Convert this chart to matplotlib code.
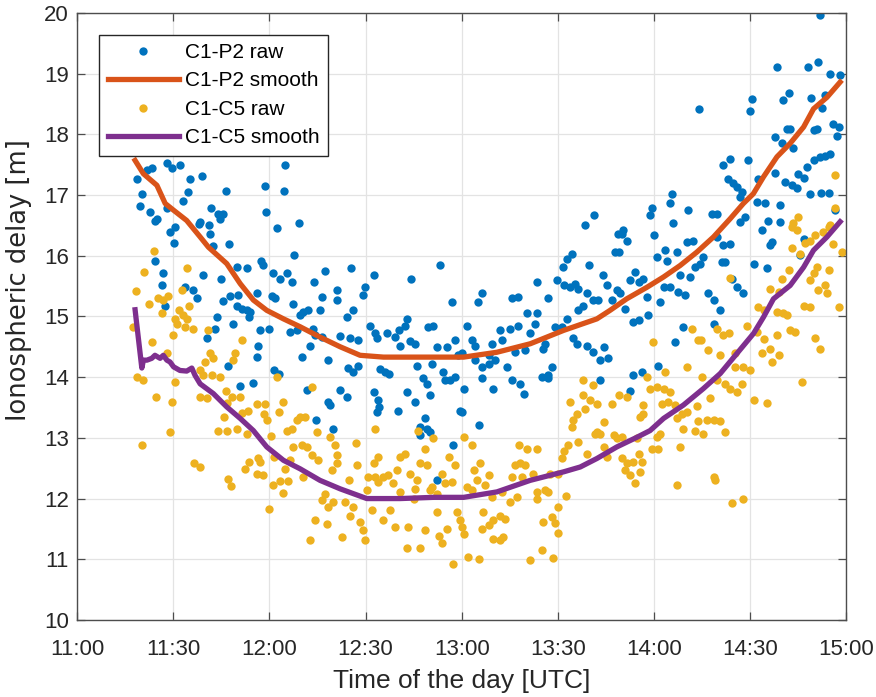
import matplotlib
matplotlib.use('Agg')
import matplotlib.pyplot as plt
import numpy as np

plt.rcParams['font.family'] = ['Liberation Sans', 'DejaVu Sans']

# time in minutes after 11:00 UTC, delay in metres
# C1-P2 raw
t_p2 = [18.6, 20.2, 19.7, 22.8, 24.9, 21.8, 23.3, 28.0, 29.6, 32.1, 35.3, 38.9, 34.7, 33.0, 28.0,
        46.5, 41.7, 44.1, 45.5, 44.6, 38.2, 41.3, 58.7, 64.6, 64.9, 59.0, 69.1, 62.3,
        231.7, 218.5, 228.0, 231.2, 235.0, 238.1, 210.6, 210.0, 220.4, 222.0, 229.1, 233.4, 232.4,
        194.1, 221.5, 222.5, 229.8, 230.8, 236.0, 237.6, 237.1, 217.8, 219.9, 223.5, 235.0, 233.4,
        231.9, 230.1, 227.7, 225.1, 226.7, 217.8, 209.5, 201.7, 203.6, 203.1, 204.8, 205.9, 207.4,
        206.9, 212.6, 221.0, 223.0, 224.6, 228.7, 232.2, 234.5, 212.1, 214.7, 219.2, 185.6, 185.1,
        179.4, 178.8, 190.5, 198.1, 199.8, 186.1, 161.4, 158.5, 170.3, 208.5, 206.9, 215.7, 219.4, 236.6,
        24.3, 29.0, 30.6, 30.3, 37.9, 41.5, 42.5, 47.5, 24.3, 26.9, 26.4, 27.5, 33.7, 36.3, 37.4,
        39.4, 49.8, 53.0, 44.8, 45.5, 47.7, 50.3, 49.8, 51.4, 53.0, 54.0, 53.5, 56.1, 43.6, 43.1,
        40.5, 48.6, 57.4, 58.1, 61.1, 60.8, 61.8, 57.1, 60.0, 56.6, 56.1, 63.4, 65.4, 67.0, 67.7,
        67.5, 66.3, 68.6, 70.6, 69.6, 72.2, 74.0, 77.4, 85.4, 81.2, 81.0, 76.4, 75.8, 84.2, 86.2,
        89.9, 89.3, 92.7, 91.4, 73.7, 74.3, 76.4, 72.7, 70.1, 78.4, 82.1, 85.2, 87.8, 93.5, 93.0,
        96.7, 99.2, 100.3, 102.4, 102.9, 104.1, 100.8, 103.9, 105.5, 94.6, 96.1, 97.2, 87.8, 86.2,
        84.5, 84.2, 78.4, 78.9, 82.1, 74.6, 80.0, 71.7, 92.5, 93.8, 93.5, 94.3, 100.0, 102.9, 106.0,
        107.9, 109.1, 110.7, 105.5, 108.6, 109.6, 111.2, 112.3, 113.3, 107.0, 109.1, 107.0, 110.2,
        63.1, 55.0, 50.9, 47.0, 61.3,
        170.0, 171.5, 168.9, 180.1, 167.9, 169.2, 152.8, 154.4, 151.6, 159.6, 143.5, 149.7, 151.8,
        153.9, 155.4, 156.4, 164.1, 165.3, 159.1, 161.1, 162.7, 126.3, 125.0, 116.9, 135.7, 137.7,
        147.1, 158.0, 156.4, 166.9, 168.4, 169.5, 172.6, 174.1, 175.2, 176.7, 177.8, 171.0, 173.6,
        175.2, 178.3, 181.9, 183.0, 185.1, 180.9, 183.5, 184.0, 187.1, 187.6, 189.7, 188.2, 191.3,
        190.3, 192.3, 195.4, 194.4, 192.9, 197.0, 198.6, 200.7, 198.6, 189.2, 186.6, 199.6, 201.7,
        203.8, 201.2, 202.2, 204.3, 205.9, 207.9, 211.1, 213.7, 216.8, 216.3, 215.2, 225.6, 226.7,
        115.4, 118.0, 121.6, 123.2, 124.2, 119.0, 120.1, 124.2, 128.4, 130.4, 132.0, 135.1, 137.7,
        129.4, 132.5, 126.3, 128.4, 140.3, 143.5, 142.9, 141.4, 136.7, 139.8, 145.5, 146.0, 149.2,
        151.3, 152.8, 154.9, 156.0, 159.1, 161.1, 164.3, 163.2, 165.8, 148.1, 147.1, 134.1, 135.7,
        138.2, 139.3, 145.0, 147.1, 129.9, 126.3, 120.6, 114.3, 114.8, 116.4, 118.0, 110.2, 119.5,
        120.1, 125.5, 117.4, 163.2, 172.6, 173.6, 176.2, 181.4, 112.4]
d_p2 = [17.27, 17.02, 16.82, 16.72, 16.61, 17.41, 17.44, 17.52, 17.44, 17.49, 17.27, 17.31, 17.05, 16.90, 16.78,
        17.06, 16.78, 16.69, 16.69, 16.61, 16.56, 16.50, 17.15, 17.06, 17.50, 16.72, 16.54, 16.45,
        19.96, 19.11, 19.11, 19.19, 19.00, 18.97, 18.58, 18.38, 18.57, 18.68, 18.60, 18.64, 18.44,
        18.41, 18.08, 18.09, 18.07, 18.09, 18.17, 18.12, 17.97, 17.96, 17.85, 17.77, 17.68, 17.64,
        17.63, 17.57, 17.46, 17.35, 17.28, 17.36, 17.57, 17.49, 17.60, 17.26, 17.19, 17.13, 17.05,
        16.97, 17.27, 17.21, 17.16, 17.11, 17.02, 17.03, 17.04, 16.88, 16.87, 16.83, 17.02, 16.87,
        16.78, 16.67, 16.76, 16.69, 16.69, 16.54, 16.67, 16.50, 16.42, 16.64, 16.56, 16.58, 16.56, 16.75,
        16.58, 16.39, 16.47, 16.21, 16.53, 16.36, 16.16, 16.19, 15.92, 15.72, 15.51, 15.18, 15.49, 15.43, 15.30,
        15.68, 15.81, 15.80, 15.62, 15.25, 15.34, 15.35, 15.18, 15.13, 15.11, 15.07, 14.99, 15.38, 14.99, 14.80,
        14.65, 14.88, 15.92, 15.84, 15.71, 15.33, 15.31, 14.77, 14.80, 14.51, 14.33, 15.61, 15.71, 15.57, 16.02,
        15.21, 14.74, 14.78, 15.07, 15.02, 15.10, 15.57, 15.75, 15.79, 15.43, 15.27, 15.32, 15.10, 14.99, 15.10,
        15.49, 15.36, 15.68, 14.85, 14.80, 14.69, 14.66, 14.52, 14.33, 14.28, 14.67, 14.64, 14.62, 14.64, 14.72,
        14.72, 14.66, 14.77, 14.85, 14.96, 15.61, 14.51, 14.60, 14.54, 14.14, 14.08, 14.06, 14.19, 14.08,
        14.15, 13.68, 13.59, 13.54, 13.79, 13.29, 13.15, 13.79, 13.75, 13.62, 13.43, 13.51, 13.45, 13.75, 14.19,
        13.98, 13.89, 14.22, 13.59, 13.32, 14.83, 14.84, 14.49, 15.84, 13.18, 13.15, 13.04, 13.10,
        14.06, 13.90, 13.85, 14.19, 14.11,
        16.36, 16.25, 16.36, 16.34, 16.06, 16.06, 15.95, 16.03, 15.81, 15.85, 15.57, 15.60, 15.51,
        15.49, 15.54, 15.46, 15.68, 15.51, 15.38, 15.27, 15.27, 15.38, 15.24, 15.24, 15.31, 15.32,
        15.31, 15.18, 15.10, 15.27, 15.43, 15.38, 15.60, 15.73, 15.57, 15.62, 15.32, 15.13, 14.91,
        14.94, 15.02, 15.24, 15.49, 15.49, 15.98, 16.09, 15.92, 16.06, 15.40, 15.35, 15.68, 15.65,
        16.23, 16.25, 15.98, 15.87, 15.81, 15.38, 15.27, 15.10, 14.88, 14.83, 14.58, 16.31, 16.17,
        16.20, 15.90, 15.90, 15.62, 15.49, 15.39, 15.87, 16.42, 16.23, 16.17, 15.79, 16.01, 16.28,
        14.50, 14.61, 14.85, 14.61, 14.52, 14.36, 14.39, 14.28, 14.36, 14.28, 14.77, 14.80, 14.85,
        14.55, 14.61, 14.17, 14.22, 15.05, 15.05, 14.88, 14.72, 14.41, 14.44, 14.47, 14.55, 14.83,
        14.83, 14.96, 14.64, 14.55, 14.51, 14.41, 14.50, 14.28, 14.31, 14.17, 14.03, 14.17, 13.95,
        13.89, 13.73, 14.00, 13.98, 13.81, 13.98, 13.81, 14.08, 13.96, 13.95, 14.00, 13.70, 13.45,
        13.43, 13.21, 12.88, 13.96, 13.78, 14.03, 14.08, 14.18, 12.31]

# C1-C5 raw
t_c5 = [24.0, 20.9, 18.3, 17.4, 22.5, 25.4, 26.9, 28.5, 26.4, 30.6, 31.1, 32.7, 31.9, 33.0, 34.2,
        33.7, 36.1, 35.0, 34.4, 29.9, 41.0, 23.3, 28.0, 18.6, 20.7, 24.7, 30.6, 29.6, 38.2, 40.0,
        42.5, 41.5, 51.4, 49.3, 48.8, 39.4, 42.0, 44.6, 38.4, 40.5, 46.5, 48.3, 50.9, 46.7, 45.7,
        51.4, 53.4, 56.1, 58.7, 58.4, 59.2, 64.4, 63.1, 62.3, 73.4, 69.6, 71.2, 68.6, 65.6, 67.0,
        75.0, 78.9, 87.1, 93.0, 106.5, 111.2, 44.1, 46.7, 49.8, 29.0, 20.2, 53.0, 67.5, 70.1, 71.7,
        36.6, 38.2, 47.0, 48.0, 52.4, 53.5, 56.6, 57.1, 56.1, 58.1, 60.5, 61.3, 61.1, 63.4, 64.2,
        60.0, 65.9, 64.9, 66.5, 70.4, 73.2, 75.3, 72.7, 74.3, 76.4, 77.4, 77.9, 78.4, 80.0, 80.5,
        81.0, 79.5, 81.0, 82.6, 83.6, 84.7, 85.2, 86.2, 87.5, 88.3, 89.3, 89.9, 90.4, 92.0, 92.5,
        94.0, 90.9, 93.0, 95.6, 97.1, 94.0, 95.6, 97.7, 99.2, 98.7, 99.7, 100.8, 102.4, 100.8, 103.4,
        102.9, 107.0, 103.9, 105.5, 105.0, 106.0, 108.6, 107.0, 109.1, 108.6, 112.3, 112.8, 110.2,
        120.6, 123.2, 115.9, 118.0, 113.8, 116.9, 114.8, 123.7, 125.8, 124.7, 127.3, 128.4, 121.6,
        123.2, 110.7, 112.3, 118.5, 119.5, 120.1, 120.6, 115.4, 113.8, 117.4, 122.1, 125.5, 126.6,
        126.3, 128.4, 129.9, 132.0, 133.6, 129.9, 132.0, 133.0, 129.4, 132.5, 135.1, 137.2, 135.7,
        138.8, 136.7, 138.2, 139.8, 138.0, 140.3, 143.5, 142.4, 143.5, 143.5, 146.0, 147.1, 145.5,
        148.1, 149.2, 150.2, 145.0, 141.4, 148.5, 150.2, 152.6, 147.6, 150.2, 151.3, 151.8, 153.3,
        156.4, 159.1, 161.7, 163.2, 164.3, 165.3, 167.4, 168.4, 170.0, 171.5, 171.0, 172.6, 175.7,
        174.1, 173.6, 175.2, 176.2, 179.4, 181.4, 180.9, 181.9, 188.2, 187.3, 195.4, 198.6, 199.1,
        202.2, 204.5, 207.9, 192.9,
        223.0, 224.6, 223.0, 225.6, 227.2, 228.8, 230.3, 232.9, 234.5, 236.0, 238.6, 222.0, 219.9,
        228.7, 229.8, 230.8, 234.5, 231.3, 233.4, 234.0, 237.6, 226.7, 228.7, 216.3, 218.9, 212.6,
        214.2, 218.3, 220.4, 221.5, 203.8, 222.5, 224.0, 218.3, 230.3, 231.9, 209.0, 212.1, 214.2,
        216.3, 213.7, 218.9, 216.8, 210.0, 207.9, 205.3, 205.3, 199.6, 201.7, 203.3, 197.0, 200.7,
        192.0, 193.6, 194.6, 179.8, 190.3, 183.5, 195.0, 202.2, 203.8, 205.9, 207.4, 197.5, 199.6,
        211.1, 215.2, 226.2, 177.7, 178.8, 180.9, 183.0, 185.1, 182.5, 184.5, 186.6, 188.7, 190.3,
        176.7, 176.7, 175.7, 158.0, 161.1, 153.9, 156.0, 158.0, 160.1, 162.2, 154.9, 154.4, 158.5,
        164.3, 162.2, 166.9, 169.0, 171.5, 187.1, 193.3, 193.8, 196.5, 198.6, 200.7, 189.2, 170.0,
        174.7, 236.6, 236.6, 225.1, 223.5, 235.0]
d_c5 = [16.07, 15.73, 15.42, 14.83, 15.20, 15.31, 15.27, 15.33, 15.06, 14.95, 14.88, 15.44, 15.10, 15.03, 14.95,
        14.83, 14.80, 15.17, 15.80, 14.69, 14.77, 14.58, 14.39, 14.00, 13.95, 13.68, 13.92, 13.59, 14.11, 14.25,
        14.31, 14.39, 14.61, 14.39, 14.29, 14.03, 14.03, 14.00, 13.67, 13.65, 13.78, 13.67, 13.67, 13.57, 13.34,
        13.41, 13.45, 13.56, 13.55, 13.40, 13.30, 13.59, 13.43, 14.01, 13.84, 13.34, 13.34, 13.29, 13.11, 13.15,
        13.10, 13.01, 12.91, 13.14, 13.12, 12.99, 13.11, 13.11, 13.15, 13.10, 12.89, 13.07, 12.85, 12.88, 12.85,
        12.58, 12.52, 12.32, 12.20, 12.49, 12.60, 12.66, 12.60, 12.41, 12.39, 13.03, 12.68, 12.23, 12.29, 12.09,
        11.82, 12.29, 12.49, 12.63, 12.35, 12.71, 12.63, 11.31, 11.65, 11.97, 12.08, 11.58, 11.86, 11.94, 12.88,
        12.71, 12.47, 12.58, 11.37, 11.94, 12.30, 11.71, 11.86, 12.56, 11.61, 11.49, 11.32, 12.14, 11.81, 12.58,
        12.68, 12.35, 12.35, 12.35, 12.38, 12.27, 11.64, 11.81, 11.53, 12.25, 12.47, 12.68, 12.74, 12.11, 11.53,
        11.19, 11.19, 12.41, 12.16, 12.00, 12.30, 11.48, 12.58, 12.55, 12.82, 11.78, 11.39, 12.14,
        13.01, 12.89, 12.68, 12.55, 12.41, 12.27, 12.26, 12.47, 12.58, 12.30, 12.22, 12.38, 12.19,
        12.14, 12.19, 12.08, 11.78, 11.64, 11.53, 11.42, 11.50, 11.27, 10.93, 11.03, 11.01, 11.78,
        11.50, 11.56, 11.64, 11.72, 11.67, 11.34, 11.31, 11.37, 12.03, 12.11, 11.94, 12.03, 12.35,
        12.35, 12.55, 12.58, 12.55, 12.88, 12.82, 12.82, 12.41, 12.11, 12.00, 12.14, 12.11, 11.61,
        11.69, 11.59, 11.43, 11.15, 10.98, 11.02, 11.86, 12.04, 12.41, 12.41, 12.66, 12.79, 12.88,
        12.93, 12.74, 13.07, 13.06, 12.85, 12.68, 13.04, 12.99, 12.66, 12.58, 12.47, 12.38, 12.44,
        12.25, 12.60, 12.74, 12.60, 12.82, 12.82, 13.01, 13.07, 12.85, 12.22, 13.07, 12.35, 12.31,
        13.10, 11.93, 12.00, 13.12,
        16.47, 16.42, 16.12, 16.03, 16.21, 16.25, 16.34, 16.39, 16.47, 16.20, 16.06, 15.76, 15.62,
        15.60, 15.71, 15.81, 15.76, 15.43, 15.51, 15.38, 15.15, 15.18, 15.15, 15.46, 15.40, 15.15,
        15.11, 15.07, 15.05, 15.02, 15.64, 14.77, 14.74, 14.69, 14.65, 14.47, 14.84, 14.74, 14.63,
        14.47, 14.39, 14.36, 14.25, 14.11, 14.17, 14.39, 14.17, 14.80, 14.69, 14.72, 14.44, 14.36,
        14.80, 14.61, 14.61, 14.58, 14.17, 14.08, 14.00, 13.89, 13.81, 13.75, 13.89, 13.65, 13.95,
        13.62, 13.57, 13.92, 14.00, 13.81, 13.84, 13.81, 13.75, 13.56, 13.59, 13.54, 13.40, 13.43,
        13.54, 13.40, 13.34, 13.96, 13.87, 13.59, 13.40, 13.70, 13.62, 13.56, 13.29, 13.18, 13.48,
        13.26, 13.10, 13.56, 13.70, 13.67, 13.32, 13.52, 13.27, 13.29, 13.29, 13.27, 13.15, 13.01,
        12.99, 17.33, 16.79, 16.64, 16.54, 16.50]

# smoothed curves
ts_p2 = [18.1, 20.7, 24.9, 27.5, 30.1, 34.2, 38.4, 41.0, 46.7, 50.9, 55.0, 59.2, 64.4, 69.6, 75.8,
         82.1, 88.3, 95.6, 106.0, 120.6, 131.0, 141.4, 151.8, 162.2, 166.3, 171.5, 177.8, 183.0,
         188.2, 193.4, 198.6, 203.8, 207.9, 211.0, 214.2, 218.4, 222.5, 226.7, 229.8, 234.0, 238.1]
ds_p2 = [17.57, 17.35, 17.16, 16.86, 16.75, 16.58, 16.31, 16.14, 15.87, 15.54, 15.27, 15.10, 14.96, 14.83, 14.66,
         14.50, 14.36, 14.33, 14.33, 14.33, 14.41, 14.55, 14.77, 14.96, 15.10, 15.29, 15.48, 15.65,
         15.84, 16.06, 16.31, 16.61, 16.86, 17.02, 17.30, 17.63, 17.85, 18.12, 18.42, 18.61, 18.86]
ts_c5 = [18.1, 18.4, 20.2, 20.7, 21.8, 23.3, 24.3, 25.9, 26.9, 28.0, 29.0, 30.1, 32.1, 34.2, 35.8, 36.8,
         38.4, 42.5, 46.7, 50.9, 55.0, 59.2, 64.4, 69.6, 75.8, 82.1, 90.4, 100.8, 111.2, 120.6, 131.0,
         141.4, 151.8, 157.0, 162.2, 168.4, 174.7, 178.8, 183.0, 189.2, 195.4, 200.7, 205.9, 211.1,
         214.2, 217.3, 222.5, 226.7, 229.8, 234.0, 238.1]
ds_c5 = [15.11, 14.97, 14.15, 14.28, 14.28, 14.31, 14.36, 14.31, 14.36, 14.28, 14.25, 14.17, 14.11, 14.10, 14.15, 14.03,
         13.89, 13.73, 13.51, 13.32, 13.12, 12.85, 12.63, 12.49, 12.30, 12.16, 12.00, 12.00, 12.02, 12.02, 12.11,
         12.30, 12.44, 12.52, 12.66, 12.85, 13.01, 13.12, 13.32, 13.54, 13.81, 14.06, 14.39, 14.72,
         14.99, 15.29, 15.51, 15.81, 16.09, 16.31, 16.56]

tick_pos = [0, 30, 60, 90, 120, 150, 180, 210, 240]
tick_labels = ['11:00', '11:30', '12:00', '12:30', '13:00', '13:30', '14:00', '14:30', '15:00']

fig = plt.figure(figsize=(8.76, 6.97), dpi=100)
ax = fig.add_axes([0.088, 0.1105, 0.878, 0.871])

ax.plot(t_p2, d_p2, 'o', color='#0072BD', markersize=6, markeredgewidth=0, label='C1-P2 raw')
ax.plot(ts_p2, ds_p2, '-', color='#D95319', linewidth=3.8, label='C1-P2 smooth')
ax.plot(t_c5, d_c5, 'o', color='#EDB120', markersize=6, markeredgewidth=0, label='C1-C5 raw')
ax.plot(ts_c5, ds_c5, '-', color='#7E2F8E', linewidth=3.8, label='C1-C5 smooth')

ax.set_xlim(0, 240)
ax.set_ylim(10, 20)
ax.set_xticks(tick_pos)
ax.set_xticklabels(tick_labels)
ax.set_yticks(np.arange(10, 21, 1))
ax.grid(True, color='#e3e3e3', linewidth=0.9)
ax.set_axisbelow(True)
for s in ax.spines.values():
    s.set_color('#4d4d4d')
    s.set_linewidth(1.0)
ax.tick_params(direction='in', top=True, right=True, length=5.5, width=0.9,
               colors='#4d4d4d', labelcolor='#262626', labelsize=16)
ax.tick_params(axis='x', pad=14)
ax.tick_params(axis='y', pad=6)

ax.set_xlabel('Time of the day [UTC]', fontsize=19, color='#262626')
ax.xaxis.set_label_coords(0.5, -0.08)
ax.set_ylabel('Ionospheric delay [m]', fontsize=18.5, color='#262626', family='DejaVu Sans')
ax.yaxis.set_label_coords(-0.058, 0.56)

leg = ax.legend(loc='upper left', bbox_to_anchor=(0.029, 0.964), borderaxespad=0,
                fontsize=15, handlelength=3.4, fancybox=False, framealpha=1,
                edgecolor='#262626', borderpad=0.4, labelspacing=0.45, handletextpad=0.3)
leg.get_frame().set_linewidth(1.0)

plt.savefig('out.png', dpi=100)
